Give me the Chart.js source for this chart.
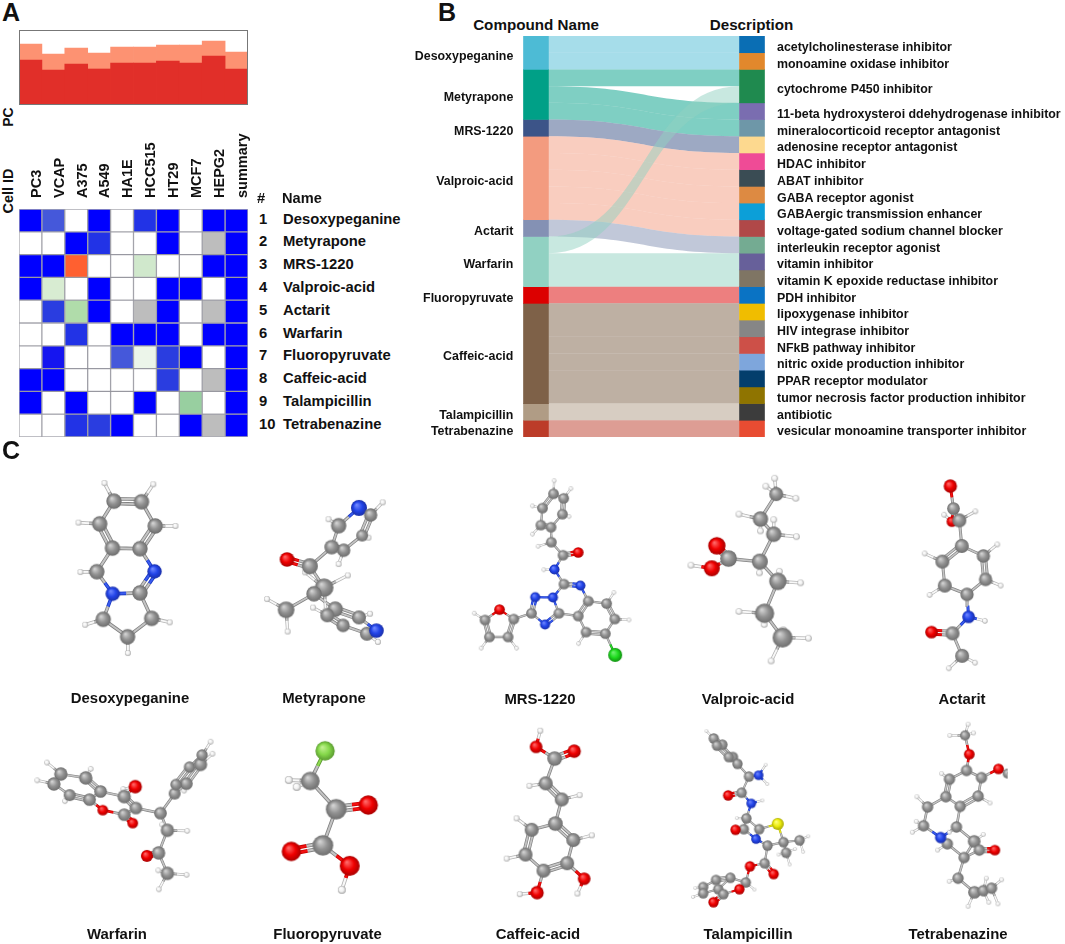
<!DOCTYPE html>
<html><head><meta charset="utf-8">
<style>
html,body{margin:0;padding:0;background:#fff;width:1065px;height:944px;overflow:hidden;position:relative}
canvas{position:absolute;display:block}
.t{position:absolute;white-space:nowrap;font-family:"Liberation Sans",Arial,sans-serif;font-weight:bold;color:#111;line-height:1;z-index:5}
</style>
<script src="https://cdn.jsdelivr.net/npm/chart.js@4/dist/chart.umd.js"></script>
</head><body>
<script>
/* ---------- Panel A data ---------- */
const cellLines=['PC3','VCAP','A375','A549','HA1E','HCC515','HT29','MCF7','HEPG2','summary'];
const pcLower=[.60,.467,.547,.48,.56,.56,.587,.56,.653,.48];
const pcUpper=[.813,.68,.76,.693,.773,.773,.80,.80,.853,.707];
const compounds=['Desoxypeganine','Metyrapone','MRS-1220','Valproic-acid','Actarit','Warfarin','Fluoropyruvate','Caffeic-acid','Talampicillin','Tetrabenazine'];
const heat1=[1,.7,0,1,0,.85,1,0,1,1];
const heat2=[0,0,1,.85,0,0,1,0,null,1];
const heat3=[1,1,-1,0,0,-.25,0,0,1,1];
const heat4=[1,-.2,0,1,0,0,1,1,0,1];
const heat5=[0,.8,-.4,1,0,null,1,0,null,1];
const heat6=[0,0,.85,0,1,1,1,0,1,1];
const heat7=[0,.9,0,0,.7,-.1,.8,1,0,1];
const heat8=[1,1,0,0,0,0,.8,0,null,1];
const heat9=[1,0,1,0,0,1,0,-.5,0,1];
const heat10=[0,0,.85,.8,1,0,0,1,null,1];
const heatRows=[heat1,heat2,heat3,heat4,heat5,heat6,heat7,heat8,heat9,heat10];
/* ---------- Panel B data ---------- */
const descriptions=['acetylcholinesterase inhibitor','monoamine oxidase inhibitor','cytochrome P450 inhibitor','11-beta hydroxysteroi ddehydrogenase inhibitor','mineralocorticoid receptor antagonist','adenosine receptor antagonist','HDAC inhibitor','ABAT inhibitor','GABA receptor agonist','GABAergic transmission enhancer','voltage-gated sodium channel blocker','interleukin receptor agonist','vitamin inhibitor','vitamin K epoxide reductase inhibitor','PDH inhibitor','lipoxygenase inhibitor','HIV integrase inhibitor','NFkB pathway inhibitor','nitric oxide production inhibitor','PPAR receptor modulator','tumor necrosis factor production inhibitor','antibiotic','vesicular monoamine transporter inhibitor'];
const linkSource=[0,0,1,1,1,2,3,3,3,3,3,4,5,5,5,6,7,7,7,7,7,7,8,9];
const linkTarget=[0,1,2,3,4,5,6,7,8,9,10,11,2,12,13,14,15,16,17,18,19,20,21,22];
/* ---------- Panel C data: [x, y, element, radius]; hydrogens: [x, y, parent]; bonds: [a, b, order] ---------- */
const desoAtoms=[[327,133,'C'],[414,135,'C'],[457,214,'C'],[409,288,'C'],[322,286,'C'],[282,207,'C'],[273,363,'C'],[323,435,'N'],[409,432,'C'],[455,362,'N'],[446,515,'C'],[370,575,'C'],[293,518,'C']];
const desoBonds=[[0,1,2],[1,2],[2,3,2],[3,4],[4,5,2],[5,0],[4,6],[6,7],[7,8],[8,9,2],[9,3],[8,10],[10,11],[11,12],[12,7]];
const desoH=[[297,74,0],[451,78,1],[521,214,2],[215,203,5],[221,364,6],[503,528,10],[371,628,11],[236,536,12]];
const metyAtoms=[[1100,155,'N',24],[1137,178,'C',20],[1110,245,'C',18],[1052,293,'C',20],[1014,283,'C',22],[1036,213,'C',23],[945,345,'C',24],[873,323,'O',22],[990,415,'C',28],[958,435,'C',23],[870,487,'C',25],[1025,485,'C',23],[1000,505,'C',21],[1050,538,'C',20],[1100,512,'C',21],[1125,565,'C',21],[1155,555,'N',22]];
const metyBonds=[[0,1],[1,2,2],[2,3],[3,4,2],[4,5],[5,0],[4,6],[6,7,2],[6,8],[8,9],[9,10],[9,11],[11,14,2],[14,16],[16,15],[15,13],[13,12,2],[12,11]];
const metyH=[[1175,137,1],[1004,192,5],[1130,252,2],[1036,338,3],[1065,375,8],[930,365,8],[995,490,8],[810,452,10],[875,558,10],[955,480,12],[1135,500,14],[1160,592,15]];
const mrsAtoms=[[293,75,'C'],[325,90,'C'],[321,142,'C'],[285,185,'C'],[253,178,'C'],[258,122,'C'],[286,234,'C'],[323,277,'C'],[371,268,'O'],[296,324,'N'],[326,372,'C'],[378,377,'N'],[291,416,'N'],[235,415,'N'],[223,468,'C'],[266,505,'N'],[310,468,'C'],[371,477,'C'],[403,428,'C'],[461,436,'C'],[487,487,'C'],[457,535,'C'],[396,530,'C'],[488,605,'Cl',21],[167,487,'C'],[122,456,'O'],[76,490,'C'],[90,546,'C'],[149,546,'C']];
const mrsBonds=[[0,1],[1,2,2],[2,3],[3,4,2],[4,5],[5,0,2],[3,6],[6,7],[7,8,2],[7,9],[9,10],[10,11,2],[10,12],[12,13],[13,14,2],[14,15],[15,16,2],[16,12],[16,17],[17,18,2],[18,11],[18,19],[19,20,2],[20,21],[21,22,2],[22,17],[21,23],[14,24],[24,25],[25,26],[26,27,2],[27,28],[28,24,2]];
const mrsH=[[295,32,0],[348,58,1],[342,150,2],[226,208,4],[226,115,5],[244,248,6],[262,325,9],[484,400,19],[532,490,20],[372,568,22],[42,468,26],[64,583,27],[176,583,28]];
const valpAtoms=[[998,76,'C',21],[948,158,'C',23],[990,208,'C',23],[946,298,'C',24],[847,288,'C',25],[810,246,'O',26],[794,320,'O',24],[1003,363,'C',26],[961,468,'C',29],[1018,548,'C',30]];
const valpBonds=[[0,1],[1,2],[2,3],[3,4],[4,5,2],[4,6],[3,7],[7,8],[8,9]];
const valpH=[[993,24,0],[965,50,0],[1060,90,0],[880,142,1],[948,197,1],[990,160,2],[1062,216,2],[945,335,3],[728,310,6],[1008,330,7],[1075,368,7],[880,462,8],[960,505,8],[1020,522,9],[1100,550,9],[982,625,9]];
const actaAtoms=[[320,172,'O',16],[315,58,'O',20],[325,130,'C',19],[344,168,'C',21],[352,250,'C',21],[422,282,'C',20],[429,357,'C',20],[369,405,'C',20],[297,377,'C',21],[289,300,'C',21],[374,477,'N',19],[322,530,'C',21],[254,526,'O',19],[353,602,'C',21]];
const actaBonds=[[1,2],[2,0],[2,3],[3,4],[4,5],[5,6,2],[6,7],[7,8],[8,9],[9,4,2],[10,7],[10,11],[11,12,2],[11,13]];
const actaH=[[396,139,3],[295,150,0],[467,245,5],[478,377,6],[248,407,8],[232,274,9],[427,490,10],[395,624,13],[310,642,13]];
const warfAtoms=[[157,175,'C',20],[135,208,'C',20],[185,245,'C',18],[248,260,'C',19],[283,233,'C',19],[236,188,'C',20],[358,250,'C',20],[393,217,'O',20],[395,288,'C',19],[358,310,'C',19],[290,295,'O',16],[385,338,'O',16],[473,305,'C',19],[518,240,'C',18],[555,207,'C',19],[522,210,'C',17],[565,152,'C',17],[600,143,'C',20],[605,112,'C',17],[495,362,'C',20],[467,437,'C',20],[430,447,'O',18],[495,505,'C',20]];
const warfBonds=[[0,1],[0,5],[1,2],[2,3,2],[3,4],[4,5,2],[4,6],[6,7],[6,8,2],[8,9],[9,10],[10,3],[9,11,2],[8,12],[12,13],[13,14],[13,15],[14,17,2],[15,16,2],[16,18],[17,18],[12,19],[19,20],[20,21,2],[20,22]];
const warfH=[[113,137,0],[252,158,5],[82,196,1],[170,265,2],[355,225,7],[632,68,18],[638,108,17],[548,230,14],[478,343,19],[558,364,19],[466,495,22],[556,510,22],[468,558,22]];
const fluoAtoms=[[995,98,'F',29],[948,198,'C',28],[1030,292,'C',31],[1132,278,'O',29],[988,412,'C',31],[888,432,'O',29],[1073,480,'O',30]];
const fluoBonds=[[0,1],[1,2],[2,3,2],[2,4],[4,5,2],[4,6]];
const fluoH=[[905,218,1],[880,195,1],[1048,560,6]];
const caffAtoms=[[243,92,'O',19],[362,106,'O',20],[301,130,'C',22],[273,210,'C',21],[323,262,'C',21],[303,340,'C',22],[229,360,'C',21],[210,440,'C',21],[266,492,'C',21],[340,468,'C',21],[359,393,'C',21],[393,518,'O',19],[246,563,'O',20]];
const caffBonds=[[2,0],[2,1,2],[2,3],[3,4,2],[4,5],[5,6],[6,7,2],[7,8],[8,9,2],[9,10],[10,5,2],[9,11],[8,12]];
const caffH=[[256,40,0],[222,218,3],[379,248,4],[182,323,6],[151,453,7],[417,378,10],[372,566,11],[192,568,12]];
const talaAtoms=[[798,65,'C'],[825,85,'C'],[858,125,'C'],[872,147,'C'],[845,125,'C'],[808,88,'C'],[908,188,'C'],[938,184,'N'],[885,240,'C'],[843,249,'O'],[915,275,'N'],[900,323,'C'],[892,358,'C'],[866,360,'O'],[940,358,'C'],[998,341,'S',18],[930,390,'N'],[966,411,'C'],[1016,400,'C'],[1066,394,'C'],[1024,434,'C'],[957,468,'C'],[985,503,'O'],[911,478,'O'],[898,530,'C'],[850,515,'C'],[805,522,'C'],[765,545,'C'],[765,565,'C'],[812,552,'C'],[828,568,'C'],[797,594,'O'],[878,552,'O']];
const talaBonds=[[0,1,2],[1,2],[2,3,2],[3,4],[4,5,2],[5,0],[3,6],[6,7],[6,8],[8,9,2],[8,10],[10,11],[11,12],[12,13,2],[11,14],[12,16],[14,16],[14,15],[15,18],[16,17],[17,18],[18,19],[18,20],[17,21],[21,22,2],[21,23],[23,24],[24,25],[24,32],[25,26,2],[26,27],[27,28,2],[28,29],[29,25],[29,30],[30,32],[30,31,2]];
const talaH=[[775,41,0],[960,150,7],[965,212,7],[950,265,10],[870,322,11],[1093,381,19],[1077,431,19],[1052,422,20],[1035,472,20],[1000,440,20],[970,400,17],[925,553,24],[850,505,25],[805,518,26],[740,548,27],[733,577,28]];
const tetrAtoms=[[370,58,'C',15],[384,118,'O',16],[375,170,'C'],[424,193,'C'],[480,165,'O',16],[510,180,'C',15],[413,252,'C'],[354,285,'C'],[307,254,'C'],[319,198,'C'],[247,287,'C'],[234,347,'C'],[312,405,'C'],[290,385,'N',17],[342,351,'C'],[367,449,'C'],[400,397,'C',19],[417,425,'C'],[468,425,'O',16],[347,515,'C'],[401,560,'C',19],[430,555,'C'],[457,547,'C']];
const tetrBonds=[[0,1],[1,2],[2,3],[3,4],[4,5],[3,6],[6,7,2],[7,8],[8,9,2],[9,2],[8,10],[10,11],[11,13],[13,14],[13,12],[12,15],[15,16],[14,16],[16,17],[17,18,2],[15,17],[15,19],[19,20],[20,21],[21,22],[14,7]];
const tetrH=[[380,22,0],[398,50,0],[320,58,0],[293,180,9],[452,274,6],[212,254,10],[210,333,11],[197,368,11],[280,425,12],[430,375,16],[318,525,19],[380,605,20],[440,515,21],[448,592,21],[490,520,22],[478,597,22],[318,368,14]];

/* ---------- styling / layout (not data) ---------- */
Chart.defaults.animation=false;
Chart.defaults.responsive=false;
Chart.defaults.events=[];
Chart.defaults.font.family='"Liberation Sans",Arial,sans-serif';
Chart.defaults.plugins.legend.display=false;
Chart.defaults.plugins.tooltip.enabled=false;
const body=document.body;
function mk(l,t,w,h){const c=document.createElement('canvas');c.width=w;c.height=h;c.style.cssText=`left:${l}px;top:${t}px;width:${w}px;height:${h}px`;body.appendChild(c);return c;}
function txt(s,x,y,size,align,rot){const d=document.createElement('div');d.className='t';d.textContent=s;d.style.left=x+'px';d.style.top=y+'px';d.style.fontSize=size+'px';
  const tx=align==='l'?'0':align==='r'?'-100%':'-50%';d.style.transform=`translate(${tx},-50%)`+(rot?` rotate(${rot}deg)`:'');body.appendChild(d);}

/* Panel A: PC bars */
const frame={id:'frame',afterDatasetsDraw(ch){const a=ch.chartArea,c=ch.ctx;c.save();c.strokeStyle='#777';c.lineWidth=1;c.strokeRect(a.left+.5,a.top+.5,a.right-a.left-1,a.bottom-a.top-1);c.restore();}};
new Chart(mk(19,30,229,75),{type:'bar',plugins:[frame],data:{labels:cellLines,datasets:[
  {data:pcLower,backgroundColor:'#e12f29',barPercentage:1,categoryPercentage:1},
  {data:pcUpper,backgroundColor:'#fd9272',barPercentage:1,categoryPercentage:1}]},
  options:{scales:{x:{display:false,stacked:true},y:{display:false,min:0,max:1}}}});

/* Panel A: heat map */
const heatColor=v=>{if(v===null)return '#bdbdbd';const m={'1':'#0000ff','0.9':'#1515f0','0.85':'#2233e6','0.8':'#2a3de0','0.7':'#4558da','0':'#ffffff','-0.1':'#ecf5ea','-0.2':'#d8ecd2','-0.25':'#d0e8cc','-0.4':'#b0dcaa','-0.5':'#98cfa0','-1':'#ff6030'};return m[String(v)];};
new Chart(mk(19,130,240,307),{type:'bar',data:{labels:cellLines,datasets:heatRows.map((r,i)=>({
   data:r.map(()=>[i,i+1]),backgroundColor:r.map(heatColor),borderColor:'rgba(125,125,135,.65)',borderWidth:1,borderSkipped:false,barPercentage:1,categoryPercentage:1}))},
  options:{layout:{padding:{right:11}},scales:{
   x:{position:'top',stacked:true,grid:{display:false},border:{display:false},
      afterFit(s){s.height=79;s.paddingLeft=0;s.paddingRight=0;},
      ticks:{autoSkip:false,minRotation:90,maxRotation:90,labelOffset:23.7,padding:3,color:'#111',font:{size:14.5,weight:'bold'}}},
   y:{display:false,min:0,max:10,reverse:true}}}});
compounds.forEach((n,i)=>{txt(String(i+1),259,218.5+22.8*i,14.8,'l');txt(n,283,218.5+22.8*i,14.8,'l');});
txt('#',257,198,14.6,'l');txt('Name',282,198,14.6,'l');
txt('PC',7.5,117,14,'c',-90);txt('Cell ID',7.5,191,14.5,'c',-90);
txt('A',11,12,25,'c');txt('B',447,12,25,'c');txt('C',11,450,25,'c');

/* Panel B: alluvial diagram */
const compoundColors=['#4dbbd5','#00a087','#3c5488','#f39b7f','#8491b4','#91d1c2','#dc0000','#7e6148','#b09c85','#bc3c29'];
const descriptionColors=['#0a6eb4','#e2882c','#1f8a4f','#7a6db0','#6e97a8','#fdd98f','#ef4b96','#3a4c54','#dd8a42','#0c9fd8','#b04848','#74ab92','#67609a','#7f7564','#0a73c4','#f0bd00','#868686','#cd5048','#7ea6dc','#033e6c','#8f7400','#3c3c3c','#e84c32'];
const compoundRows=compounds.map((_,i)=>linkSource.filter(s=>s===i).length);
const descriptionRows=descriptions.map((_,i)=>linkTarget.filter(s=>s===i).length);
const NODE_W=25;
const ribbons={id:'ribbons',beforeDatasetsDraw(ch){
  const c=ch.ctx,xs=ch.scales.x,ys=ch.scales.y;
  const x0=xs.getPixelForValue(0)+NODE_W/2,x1=xs.getPixelForValue(1)-NODE_W/2,xm=(x0+x1)/2;
  const so=[],to=[];let a=0;compoundRows.forEach(n=>{so.push(a);a+=n;});a=0;descriptionRows.forEach(n=>{to.push(a);a+=n;});
  c.save();
  linkSource.forEach((s,k)=>{const t=linkTarget[k];
    const y0=so[s]++,y1=to[t]++;
    const a0=ys.getPixelForValue(y0),b0=ys.getPixelForValue(y0+1),a1=ys.getPixelForValue(y1),b1=ys.getPixelForValue(y1+1);
    c.beginPath();c.moveTo(x0,a0);c.bezierCurveTo(xm,a0,xm,a1,x1,a1);c.lineTo(x1,b1);c.bezierCurveTo(xm,b1,xm,b0,x0,b0);c.closePath();
    c.globalAlpha=.5;c.fillStyle=compoundColors[s];c.fill();});
  c.restore();}};
new Chart(mk(428,36,432,401),{type:'bar',plugins:[ribbons],data:{labels:['Compound Name','Description'],datasets:[
   ...compoundRows.map((n,i)=>({data:[n,null],backgroundColor:compoundColors[i],barThickness:NODE_W})),
   ...descriptionRows.map((n,i)=>({data:[null,n],backgroundColor:descriptionColors[i],barThickness:NODE_W}))]},
  options:{scales:{x:{display:false,stacked:true},y:{display:false,stacked:true,min:0,max:24,reverse:true}}}});
const ROW=16.69,rowY=(s,n)=>36+ROW*(s+n/2)+3;
{let a=0;compounds.forEach((n,i)=>{txt(n,513.3,rowY(a,compoundRows[i]),12.4,'r');a+=compoundRows[i];});
 a=0;descriptions.forEach((n,i)=>{txt(n,777,rowY(a,descriptionRows[i]),12.4,'l');a+=descriptionRows[i];});}
txt('Compound Name',536,24.5,15.2,'c');txt('Description',751.5,24.5,15.2,'c');

/* Panel C: molecules */
const shade={C:['#d4d4d4','#919191','#6e6e6e'],H:['#ffffff','#f2f2f2','#a8a8a8'],N:['#7088ff','#2244e8','#1a2fa8'],O:['#ff6a6a','#f00000','#a80000'],S:['#ffff80','#ecec10','#a8a800'],Cl:['#70f070','#1fdc1f','#109010'],F:['#c0f090','#85d84a','#5a9a30']};
const bondInk={C:['#828282','#c4c4c4'],H:['#b4b4b4','#f8f8f8'],N:['#1a38c0','#3a5cf0'],O:['#c80000','#f41010'],S:['#b0b000','#e8e820'],Cl:['#109010','#30dc30'],F:['#5a9a30','#90dc50']};
function sphere(el,r){const s=Math.ceil(2*r+2),cv=document.createElement('canvas');cv.width=cv.height=s;const c=cv.getContext('2d'),m=s/2,g=c.createRadialGradient(m-r*.3,m-r*.38,r*.05,m,m,r);
  const p=shade[el];g.addColorStop(0,p[0]);g.addColorStop(.55,p[1]);g.addColorStop(1,p[2]);c.fillStyle=g;c.beginPath();c.arc(m,m,r,0,7);c.fill();return cv;}
function moleculeSets(atomsIn,bonds,hs,cR,hR,bw){
  const atoms=atomsIn.map(a=>({x:a[0],y:a[1],el:a[2],r:a[3]||(a[2]==='N'?cR*.94:cR)}));
  const groups={};
  const add=(el,p,q)=>{(groups[el]=groups[el]||[]).push(p,q,{x:NaN,y:NaN});};
  const bond=(A,B,o)=>{const dx=B.x-A.x,dy=B.y-A.y,L=Math.hypot(dx,dy)||1,nx=-dy/L,ny=dx/L,off=bw*2.2;
     (o===2?[-off,off]:[0]).forEach(f=>{const p={x:A.x+nx*f,y:A.y+ny*f},q={x:B.x+nx*f,y:B.y+ny*f},m={x:(p.x+q.x)/2,y:(p.y+q.y)/2};add(A.el,p,m);add(B.el,m,q);});};
  bonds.forEach(b=>bond(atoms[b[0]],atoms[b[1]],b[2]||1));
  const hAtoms=hs.map(h=>({x:h[0],y:h[1],el:'H',r:hR}));
  hs.forEach((h,i)=>bond(atoms[h[2]],hAtoms[i],1));
  const ds=[];
  Object.keys(groups).forEach(el=>{
    ds.push({data:groups[el],showLine:true,spanGaps:false,pointRadius:0,borderColor:bondInk[el][0],borderWidth:bw,order:30});
    ds.push({data:groups[el],showLine:true,spanGaps:false,pointRadius:0,borderColor:bondInk[el][1],borderWidth:bw*.55,order:20});});
  const pts=[...hAtoms,...atoms];
  ds.push({data:pts.map(p=>({x:p.x,y:p.y})),pointStyle:pts.map(p=>sphere(p.el,p.r/3)),pointRadius:pts.map(p=>p.r/3),showLine:false,order:1});
  return ds;}
function panel(l,t,w,h,sets){new Chart(mk(l,t,w,h),{type:'scatter',data:{datasets:sets.flat()},options:{scales:{x:{display:false,type:'linear',min:0,max:w*3},y:{display:false,min:0,max:h*3,reverse:true}}}});}
panel(0,450,420,260,[moleculeSets(desoAtoms,desoBonds,desoH,23,9,3.6),moleculeSets(metyAtoms,metyBonds,metyH,22,9,3.2)]);
panel(450,460,420,250,[moleculeSets(mrsAtoms,mrsBonds,mrsH,16,6.5,2.3),moleculeSets(valpAtoms,valpBonds,valpH,25,10,3.4)]);
panel(845,460,220,250,[moleculeSets(actaAtoms,actaBonds,actaH,20,8,3)]);
panel(0,710,420,234,[moleculeSets(warfAtoms,warfBonds,warfH,19,8,2.7),moleculeSets(fluoAtoms,fluoBonds,fluoH,30,12,3.8)]);
panel(450,710,420,234,[moleculeSets(caffAtoms,caffBonds,caffH,21,9,3.2),moleculeSets(talaAtoms,talaBonds,talaH,15.5,5.5,2.2)]);
panel(845,710,170,234,[moleculeSets(tetrAtoms,tetrBonds,tetrH,17,7,2.6)]);
const nameTop=[[130,698],[324,698],[540,698.5],[748,698.5],[962,698.5]];
const nameBottom=[[117,934],[327.5,934],[538,934],[748,934],[958,934]];
compounds.slice(0,5).forEach((n,i)=>txt(n,nameTop[i][0],nameTop[i][1],14.9,'c'));
compounds.slice(5).forEach((n,i)=>txt(n,nameBottom[i][0],nameBottom[i][1],14.9,'c'));
</script>
</body></html>
